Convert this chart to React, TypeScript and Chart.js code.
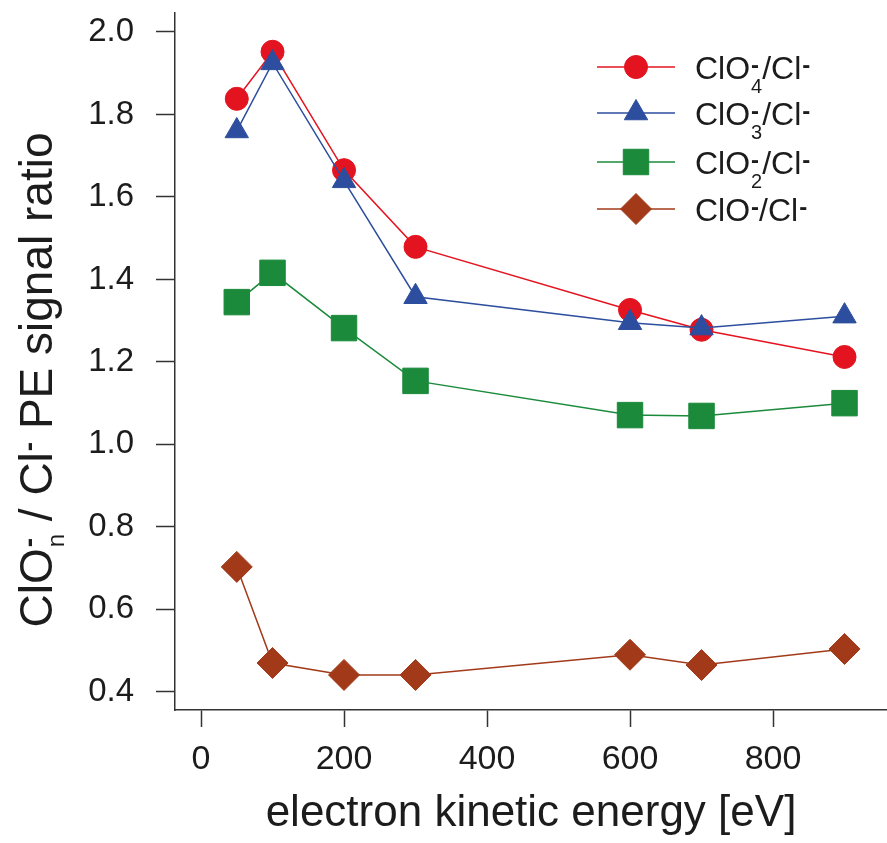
import React, { useEffect, useRef } from 'react';
import { Chart, registerables } from 'chart.js';

Chart.register(...registerables);

// ---- data ----
const energies = [50, 100, 200, 300, 600, 700, 900];
const clo4Ratio = [1.838, 1.952, 1.665, 1.479, 1.326, 1.278, 1.212];
const clo3Ratio = [1.76, 1.925, 1.639, 1.358, 1.295, 1.282, 1.311];
const clo2Ratio = [1.345, 1.416, 1.282, 1.154, 1.071, 1.069, 1.10];
const cloRatio = [0.703, 0.47, 0.441, 0.441, 0.49, 0.465, 0.504];

const xTickValues = [0, 200, 400, 600, 800];
const yTickValues = [0.4, 0.6, 0.8, 1.0, 1.2, 1.4, 1.6, 1.8, 2.0];
const xTitle = 'electron kinetic energy [eV]';

type Seg = { t?: string; sub?: string; sup?: string };

const yTitleParts: Seg[] = [
  { t: 'ClO' },
  { sub: 'n', sup: '-' },
  { t: ' / Cl' },
  { sup: '-' },
  { t: ' PE signal ratio' },
];

const legendLabels: Seg[][] = [
  [{ t: 'ClO' }, { sub: '4', sup: '-' }, { t: '/Cl' }, { sup: '-' }],
  [{ t: 'ClO' }, { sub: '3', sup: '-' }, { t: '/Cl' }, { sup: '-' }],
  [{ t: 'ClO' }, { sub: '2', sup: '-' }, { t: '/Cl' }, { sup: '-' }],
  [{ t: 'ClO' }, { sup: '-' }, { t: '/Cl' }, { sup: '-' }],
];

const seriesColors = ['#e3141f', '#2d4e9e', '#1b8b3b', '#a23a1a'];
const seriesStyles = ['circle', 'triangle', 'rect', 'rectRot'];
const seriesRadii = [11.5, 13.5, 18, 15.5];

const FONT = '"Liberation Sans", Arial, Helvetica, sans-serif';
const TEXT = '#1c1c1c';

function drawRich(
  ctx: CanvasRenderingContext2D,
  segs: Seg[],
  x: number,
  y: number,
  size: number,
  small: number,
  subOff: number,
  supOff: number,
  draw: boolean
): number {
  let cx = x;
  for (const s of segs) {
    if (s.t) {
      ctx.font = `${size}px ${FONT}`;
      if (draw) ctx.fillText(s.t, cx, y);
      cx += ctx.measureText(s.t).width;
    } else {
      let w = 0;
      if (s.sub) {
        ctx.font = `${small}px ${FONT}`;
        if (draw) ctx.fillText(s.sub, cx + 1, y + subOff);
        w = Math.max(w, ctx.measureText(s.sub).width + 1);
      }
      if (s.sup) {
        ctx.font = `bold ${small + 4}px ${FONT}`;
        if (draw) ctx.fillText(s.sup, cx + 1, y + supOff);
        w = Math.max(w, ctx.measureText(s.sup).width + 1);
      }
      cx += w;
    }
  }
  return cx - x;
}

function drawMarker(ctx: CanvasRenderingContext2D, style: string, x: number, y: number, r: number, color: string) {
  ctx.save();
  ctx.fillStyle = color;
  ctx.strokeStyle = color;
  ctx.lineWidth = 1;
  ctx.beginPath();
  if (style === 'circle') {
    ctx.arc(x, y, r, 0, Math.PI * 2);
  } else if (style === 'triangle') {
    for (let i = 0; i < 3; i++) {
      const a = (i * 2 * Math.PI) / 3;
      const px = x + Math.sin(a) * r;
      const py = y - Math.cos(a) * r;
      if (i === 0) ctx.moveTo(px, py);
      else ctx.lineTo(px, py);
    }
    ctx.closePath();
  } else if (style === 'rect') {
    const s = r * Math.SQRT1_2;
    ctx.rect(x - s, y - s, 2 * s, 2 * s);
  } else {
    ctx.moveTo(x, y - r);
    ctx.lineTo(x + r, y);
    ctx.lineTo(x, y + r);
    ctx.lineTo(x - r, y);
    ctx.closePath();
  }
  ctx.fill();
  ctx.stroke();
  ctx.restore();
}

const decorPlugin = {
  id: 'decor',
  afterDraw(chart: any) {
    const ctx: CanvasRenderingContext2D = chart.ctx;
    ctx.save();
    ctx.fillStyle = TEXT;
    ctx.textBaseline = 'alphabetic';
    ctx.textAlign = 'left';

    // y-axis title (rotated)
    const tSize = 46;
    const tSmall = 24;
    const w = drawRich(ctx, yTitleParts, 0, 0, tSize, tSmall, 12, -14, false);
    const centerY = 380;
    ctx.save();
    ctx.translate(52, centerY + w / 2);
    ctx.rotate(-Math.PI / 2);
    ctx.fillStyle = TEXT;
    drawRich(ctx, yTitleParts, 0, 0, tSize, tSmall, 12, -14, true);
    ctx.restore();

    // legend
    const rowY = [67, 113, 162, 209];
    const lineX0 = 597;
    const lineX1 = 675;
    const markX = 636;
    const textX = 695;
    legendLabels.forEach((lab, i) => {
      const y = rowY[i];
      ctx.save();
      ctx.strokeStyle = seriesColors[i];
      ctx.lineWidth = 1.5;
      ctx.beginPath();
      ctx.moveTo(lineX0, y);
      ctx.lineTo(lineX1, y);
      ctx.stroke();
      ctx.restore();
      drawMarker(ctx, seriesStyles[i], markX, y, seriesRadii[i], seriesColors[i]);
      ctx.fillStyle = TEXT;
      drawRich(ctx, lab, textX, y + 12, 32, 20, 14, -6, true);
    });
    ctx.restore();
  },
};

export default function App() {
  const canvasRef = useRef<HTMLCanvasElement | null>(null);

  useEffect(() => {
    if (!canvasRef.current) return;
    const seriesData = [clo4Ratio, clo3Ratio, clo2Ratio, cloRatio];
    const drawOrder = [1, 0, 2, 3];
    const datasets = seriesData.map((vals, i) => ({
      label: 'series' + i,
      data: energies.map((e, j) => ({ x: e, y: vals[j] })),
      borderColor: seriesColors[i],
      backgroundColor: seriesColors[i],
      borderWidth: 1.5,
      pointStyle: seriesStyles[i] as any,
      pointRadius: seriesRadii[i],
      pointBorderWidth: 1,
      pointBackgroundColor: seriesColors[i],
      pointBorderColor: seriesColors[i],
      showLine: true,
      tension: 0,
      clip: false as any,
      order: drawOrder[i],
    }));

    const chart = new Chart(canvasRef.current, {
      type: 'line',
      data: { datasets },
      options: {
        animation: false,
        responsive: false,
        events: [],
        layout: { autoPadding: false, padding: { top: 13, right: 0, left: 0, bottom: 0 } },
        plugins: {
          legend: { display: false },
          tooltip: { enabled: false },
        },
        scales: {
          x: {
            type: 'linear',
            min: -36.4,
            max: 959.4,
            afterFit: (s: any) => {
              s.height = 133;
              s.paddingRight = 0;
              s.paddingLeft = 0;
            },
            afterBuildTicks: (s: any) => {
              s.ticks = xTickValues.map((v) => ({ value: v }));
            },
            ticks: {
              color: TEXT,
              padding: 12,
              maxRotation: 0,
              autoSkip: false,
              font: { size: 34, family: FONT },
              callback: (v: any) => String(v),
            },
            grid: {
              drawOnChartArea: false,
              drawTicks: true,
              tickLength: 17,
              tickWidth: 1.5,
              tickColor: '#333',
            },
            border: { display: true, color: '#333', width: 1.5 },
            title: {
              display: true,
              text: xTitle,
              color: TEXT,
              font: { size: 44, family: FONT },
              padding: { top: 0, bottom: 3 },
            },
          },
          y: {
            type: 'linear',
            min: 0.356,
            max: 2.046,
            afterFit: (s: any) => {
              s.width = 175;
              s.paddingTop = 0;
              s.paddingBottom = 0;
            },
            afterBuildTicks: (s: any) => {
              s.ticks = yTickValues.map((v) => ({ value: v }));
            },
            ticks: {
              color: TEXT,
              padding: 22,
              autoSkip: false,
              font: { size: 33, family: FONT },
              callback: (v: any) => Number(v).toFixed(1),
            },
            grid: {
              drawOnChartArea: false,
              drawTicks: true,
              tickLength: 19,
              tickWidth: 1.5,
              tickColor: '#333',
            },
            border: { display: true, color: '#333', width: 1.5 },
          },
        },
      },
      plugins: [decorPlugin],
    });
    return () => chart.destroy();
  }, []);

  return (
    <div style={{ position: 'absolute', left: 0, top: 0, width: 887, height: 843, background: '#fff' }}>
      <canvas ref={canvasRef} width={887} height={843} style={{ display: 'block' }} />
    </div>
  );
}
